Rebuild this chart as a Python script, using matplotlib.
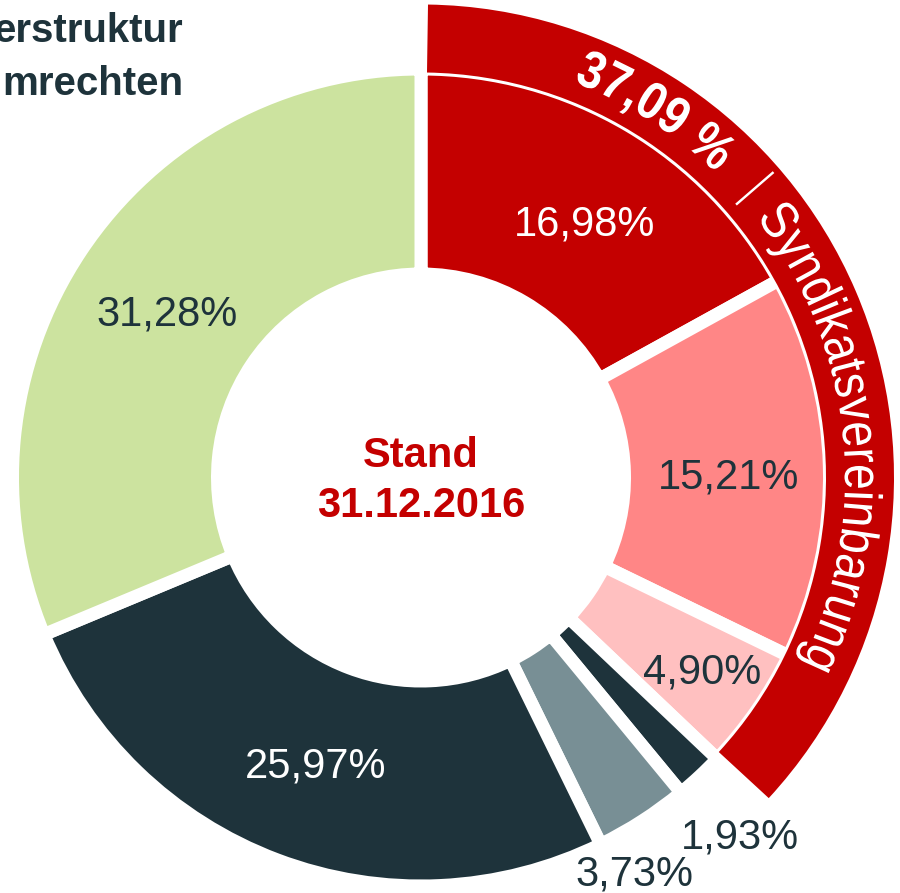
#!/usr/bin/env python3

import numpy as np

import matplotlib
matplotlib.use("Agg")
import matplotlib.pyplot as plt
from matplotlib.font_manager import FontProperties, findfont
from matplotlib.ft2font import FT2Font
from matplotlib.textpath import TextPath
from matplotlib.patches import PathPatch
from matplotlib.transforms import Affine2D

""" Stimmrechte donut, Stand 31.12.2016 """

# data
shares = [16.98, 15.21, 4.90, 1.93, 3.73, 25.97, 31.28]
share_labels = ["16,98%", "15,21%", "4,90%", "1,93%", "3,73%", "25,97%", "31,28%"]
n_syndicate = 3   # first three slices are bound by the Syndikatsvereinbarung
ring_value = "37,09 %"
ring_name = "Syndikatsvereinbarung"
center_lines = ["Stand", "31.12.2016"]
title_lines = ["erstruktur", "mrechten"]

# style
FONT = "Liberation Sans"
RED = "#c40000"
DARK = "#1e333b"
slice_colors = [RED, "#ff8686", "#ffc0c0", DARK, "#788f95", DARK, "#cce39f"]
label_colors = ["white", DARK, DARK, DARK, DARK, "white", DARK]

# layout, in pixels (axes data units == pixels)
W, H = 900, 893
CX, CY = 421, H - 477.5
GAP = 13                     # white gap between slices
R_OUT, R_IN = 402 + GAP / 2, 210 - GAP / 2
RING_IN, RING_OUT = 405, 473
label_r = [305, 308, 340, 478, 447, 304, 304]
label_dt = [-1.9, -0.8, 0.6, -1.2, -4.3, 0.4, 0.3]
LABEL_PT = 30

fig = plt.figure(figsize=(W / 100, H / 100), dpi=100)
ax = fig.add_axes([0, 0, 1, 1])

wedges, _ = ax.pie(shares, colors=slice_colors, startangle=90, counterclock=False,
                   radius=R_OUT, center=(CX, CY),
                   wedgeprops=dict(width=R_OUT - R_IN, edgecolor="white",
                                   linewidth=GAP * 0.72))

# outer ring for the syndicate
syn = sum(shares[:n_syndicate])
ring, _ = ax.pie([syn, 100 - syn], colors=[RED, "none"], startangle=90,
                 counterclock=False, radius=RING_OUT, center=(CX, CY),
                 wedgeprops=dict(width=RING_OUT - RING_IN, linewidth=0))
ring[1].remove()
d = np.degrees(GAP / 2 / ((RING_IN + RING_OUT) / 2))
ring[0].set_theta1(ring[0].theta1 + d)
ring[0].set_theta2(ring[0].theta2 - d)
ring[0].set_zorder(3)

ax.set_xlim(0, W)
ax.set_ylim(0, H)
ax.set_aspect("equal")
ax.axis("off")

# slice labels
fs_px = LABEL_PT / 0.72
for w, lab, col, r, dt in zip(wedges, share_labels, label_colors, label_r, label_dt):
	th = np.radians((w.theta1 + w.theta2) / 2 + dt)
	x = CX + r * np.cos(th)
	y = CY + r * np.sin(th) - 0.358 * fs_px
	ax.text(x, y, lab, ha="center", va="baseline", fontsize=LABEL_PT,
	        color=col, family=FONT, zorder=5)

# centre text
ax.text(CX, CY + 10.5, center_lines[0], ha="center", va="baseline", fontsize=30,
        weight="bold", color=RED, family=FONT)
ax.text(CX, CY - 39.5, center_lines[1], ha="center", va="baseline", fontsize=30,
        weight="bold", color=RED, family=FONT)

# title, cut at the left edge
ax.text(183, H - 42, title_lines[0], ha="right", va="baseline", fontsize=29,
        weight="bold", color=DARK, family=FONT)
ax.text(183, H - 95, title_lines[1], ha="right", va="baseline", fontsize=29,
        weight="bold", color=DARK, family=FONT)


def arc_text(s, theta0, r, weight, sx=46.5, sy=53):
	""" text along a clockwise arc, theta0 = angle of the first char centre """
	fp = FontProperties(family=FONT, weight=weight)
	font = FT2Font(findfont(fp))
	font.set_size(100, 72)
	adv = []
	for ch in s:
		g = font.load_char(ord(ch))
		adv.append(g.linearHoriAdvance / 65536 / 100)
	adv = np.array(adv)
	pos = (np.cumsum(adv) - adv / 2) * sx
	pos -= pos[0]
	for ch, a, p in zip(s, adv, pos):
		if ch == " ":
			continue
		th = np.radians(theta0) - p / r
		tp = TextPath((0, 0), ch, size=1, prop=fp)
		tr = Affine2D().translate(-a / 2, 0).scale(sx, sy) \
			.rotate(th - np.pi / 2).translate(CX + r * np.cos(th), CY + r * np.sin(th))
		ax.add_patch(PathPatch(tr.transform_path(tp), fc="white", lw=0, zorder=6))


R_BASE = 424
arc_text(ring_value, 67.2, R_BASE, "bold")
arc_text("|", 40.9, R_BASE + 4, "normal", sx=30)
arc_text(ring_name, 35.7, R_BASE, "normal")

plt.savefig("out.png", dpi=100)
